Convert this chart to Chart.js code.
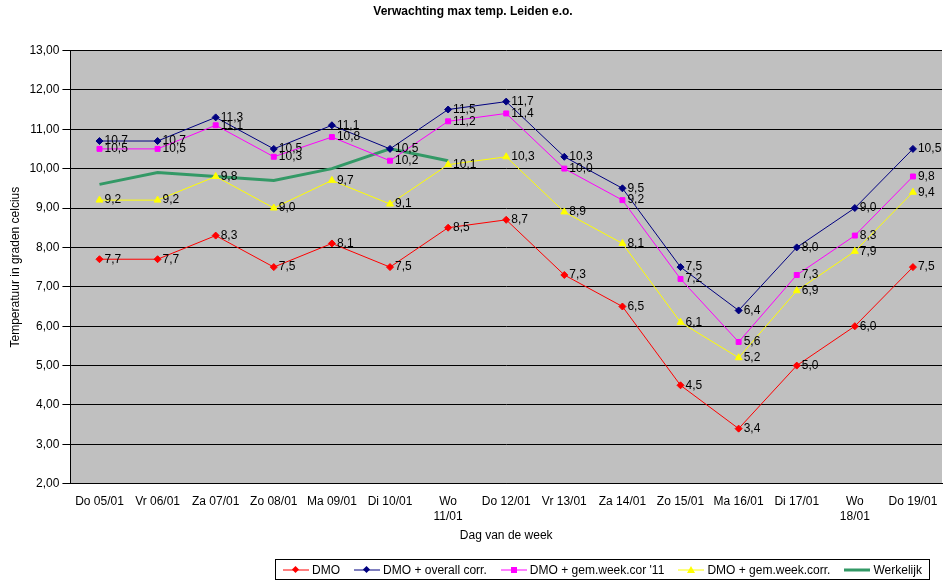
<!DOCTYPE html>
<html><head><meta charset="utf-8">
<script src="https://cdn.jsdelivr.net/npm/chart.js@4"></script>
<style>
body{margin:0;background:#fff;font-family:"Liberation Sans",Arial,sans-serif}
#wrap{position:relative;width:948px;height:585px}
#legend{position:absolute;left:275px;top:559px;width:655px;height:21px;border:1px solid #000;box-sizing:border-box;display:flex;align-items:center;justify-content:space-around;font-size:12px}
#legend span{display:flex;align-items:center;gap:3px}
</style></head><body>
<div id="wrap"><canvas id="c" width="948" height="585"></canvas>
<div id="legend">
<span><svg width="26" height="10"><line x1="0" y1="5" x2="26" y2="5" stroke="#ff0000"/><rect x="10" y="2" width="5" height="5" fill="#ff0000" transform="rotate(45 12.5 4.5)"/></svg>DMO</span>
<span><svg width="26" height="10"><line x1="0" y1="5" x2="26" y2="5" stroke="#000080"/><rect x="10" y="2" width="5" height="5" fill="#000080" transform="rotate(45 12.5 4.5)"/></svg>DMO + overall corr.</span>
<span><svg width="26" height="10"><line x1="0" y1="5" x2="26" y2="5" stroke="#ff00ff"/><rect x="10" y="2" width="6" height="6" fill="#ff00ff"/></svg>DMO + gem.week.cor '11</span>
<span><svg width="26" height="10"><line x1="0" y1="5" x2="26" y2="5" stroke="#ffff00"/><polygon points="13,1 17,8 9,8" fill="#ffff00"/></svg>DMO + gem.week.corr.</span>
<span><svg width="26" height="10"><line x1="0" y1="5" x2="26" y2="5" stroke="#339966" stroke-width="3"/></svg>Werkelijk</span>
</div></div>
<script>
const categories = ['Do 05/01','Vr 06/01','Za 07/01','Zo 08/01','Ma 09/01','Di 10/01',['Wo','11/01'],'Do 12/01','Vr 13/01','Za 14/01','Zo 15/01','Ma 16/01','Di 17/01',['Wo','18/01'],'Do 19/01'];
const dmo = [7.7,7.7,8.3,7.5,8.1,7.5,8.5,8.7,7.3,6.5,4.5,3.4,5.0,6.0,7.5];
const dmoOverall = [10.7,10.7,11.3,10.5,11.1,10.5,11.5,11.7,10.3,9.5,7.5,6.4,8.0,9.0,10.5];
const dmoWeek11 = [10.5,10.5,11.1,10.3,10.8,10.2,11.2,11.4,10.0,9.2,7.2,5.6,7.3,8.3,9.8];
const dmoWeek = [9.2,9.2,9.8,9.0,9.7,9.1,10.1,10.3,8.9,8.1,6.1,5.2,6.9,7.9,9.4];
const werkelijk = [9.6,9.9,9.8,9.7,10.0,10.5,10.2,null,null,null,null,null,null,null,null];

const fmt = (v, d) => v.toFixed(d).replace('.', ',');
const font = {family:'"Liberation Sans", Arial, sans-serif', size:12};

const bgPlugin = {
  id:'bg',
  beforeDraw(ch){
    const a = ch.chartArea, c = ch.ctx;
    c.save(); c.fillStyle = '#c0c0c0'; c.fillRect(a.left, a.top, a.right-a.left, a.bottom-a.top); c.restore();
  }
};
const labelPlugin = {
  id:'lbl',
  afterDatasetsDraw(ch){
    const c = ch.ctx;
    c.save(); c.fillStyle = '#000'; c.font = '12px "Liberation Sans", Arial'; c.textBaseline = 'middle';
    ch.data.datasets.forEach((ds, i) => {
      if (!ds.showLabels) return;
      ch.getDatasetMeta(i).data.forEach((p, j) => {
        if (ds.data[j] == null) return;
        c.fillText(fmt(ds.data[j], 1), p.x + 5, p.y);
      });
    });
    c.restore();
  }
};

function ds(label, data, color, style, r){
  return {label, data, borderColor:color, backgroundColor:color, borderWidth:1,
    pointStyle:style, pointRadius:r, pointBorderColor:color, tension:0, showLabels:true};
}

new Chart(document.getElementById('c'), {
  type:'line',
  data:{labels:categories, datasets:[
    ds('DMO', dmo, '#ff0000', 'rectRot', 3.5),
    ds('DMO + overall corr.', dmoOverall, '#000080', 'rectRot', 3.5),
    ds('DMO + gem.week.cor \'11', dmoWeek11, '#ff00ff', 'rect', 3.5),
    ds('DMO + gem.week.corr.', dmoWeek, '#ffff00', 'triangle', 4),
    {label:'Werkelijk', data:werkelijk, borderColor:'#339966', borderWidth:3, pointRadius:0, spanGaps:false}
  ]},
  options:{
    responsive:false, animation:false,
    layout:{padding:{left:4, right:6, top:0, bottom:38}},
    plugins:{
      legend:{display:false}, tooltip:{enabled:false},
      title:{display:true, text:'Verwachting max temp. Leiden e.o.', color:'#000', font, padding:{top:4, bottom:32}}
    },
    scales:{
      x:{offset:true, grid:{display:false, drawTicks:true}, border:{color:'#000'},
        ticks:{color:'#000', font, maxRotation:0, autoSkip:false},
        title:{display:true, text:'Dag van de week', color:'#000', font, padding:{top:2}}},
      y:{min:2, max:13, grid:{color:'#000', lineWidth:1}, border:{color:'#000'},
        ticks:{stepSize:1, color:'#000', font, callback:v => fmt(v, 2)},
        title:{display:true, text:'Temperatuur in graden celcius', color:'#000', font}}
    }
  },
  plugins:[bgPlugin, labelPlugin]
});
</script></body></html>
